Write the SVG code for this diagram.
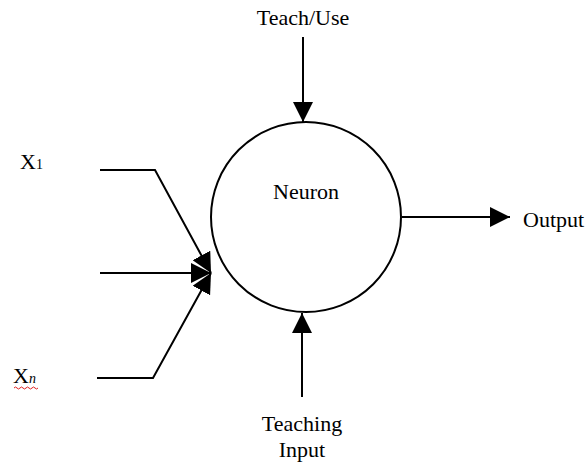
<svg xmlns="http://www.w3.org/2000/svg" width="587" height="464" viewBox="0 0 587 464">
<defs>
<style>
text{font-family:"Liberation Serif","Times New Roman",serif;font-size:22px;fill:#000}
.ln{stroke:#000;stroke-width:2;fill:none}
</style>
<marker id="ah" markerUnits="userSpaceOnUse" markerWidth="20" markerHeight="20" refX="20" refY="10" orient="auto" viewBox="0 0 20 20">
<path d="M0,0 L20,10 L0,20 z" fill="#000"/>
</marker>
</defs>
<rect width="587" height="464" fill="#fff"/>
<g id="neuron">
<circle cx="306" cy="217" r="95" fill="#fff" stroke="#000" stroke-width="2"/>
<text x="306" y="199" text-anchor="middle">Neuron</text>
</g>
<g id="teach-use"><text x="303" y="25" text-anchor="middle">Teach/Use</text></g>
<g id="output"><text x="523" y="227">Output</text></g>
<g id="teaching-input">
<text x="302" y="431" text-anchor="middle">Teaching</text>
<text x="302" y="457" text-anchor="middle">Input</text>
</g>
<g id="x1"><text x="20" y="169">X<tspan font-size="14">1</tspan></text></g>
<g id="xn"><text x="13" y="383">X<tspan font-size="14" font-style="italic">n</tspan></text>
<path d="M14,388 q1.5,-2 3,0 t3,0 t3,0 t3,0 t3,0 t3,0 t3,0 t3,0" stroke="#e02020" stroke-width="1" fill="none"/>
</g>
<g id="connectors">
<line class="ln" x1="303" y1="37" x2="303" y2="122" marker-end="url(#ah)"/>
<line class="ln" x1="402" y1="217" x2="510" y2="217" marker-end="url(#ah)"/>
<line class="ln" x1="302" y1="397" x2="302" y2="313" marker-end="url(#ah)"/>
<polyline class="ln" points="100,170 155,170 211,273" marker-end="url(#ah)"/>
<line class="ln" x1="100" y1="273" x2="211" y2="273" marker-end="url(#ah)"/>
<polyline class="ln" points="97,378 153,378 211,273" marker-end="url(#ah)"/>
</g>
</svg>
